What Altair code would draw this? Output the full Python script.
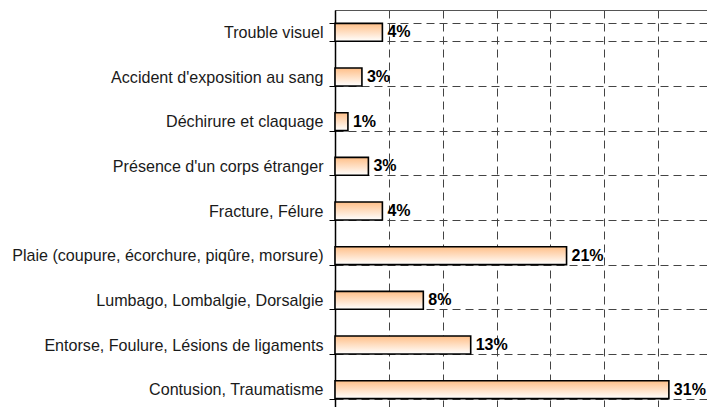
import altair as alt
import pandas as pd

categories = [
    "Trouble visuel",
    "Accident d'exposition au sang",
    "Déchirure et claquage",
    "Présence d'un corps étranger",
    "Fracture, Félure",
    "Plaie (coupure, écorchure, piqûre, morsure)",
    "Lumbago, Lombalgie, Dorsalgie",
    "Entorse, Foulure, Lésions de ligaments",
    "Contusion, Traumatisme",
]
values = [4.4, 2.5, 1.2, 3.1, 4.4, 21.5, 8.2, 12.6, 31.0]
labels = ["4%", "3%", "1%", "3%", "4%", "21%", "8%", "13%", "31%"]
grid_values = [0, 5, 10, 15, 20, 25, 30]

df = pd.DataFrame({"cat": categories, "val": values, "lab": labels})

FONT = "Liberation Sans"
PAD_LEFT = 327
W = 372
H = 402
XMAX = 34.54

x_enc = alt.X(
    "val:Q",
    scale=alt.Scale(domain=[0, XMAX], nice=False, zero=True),
    axis=alt.Axis(
        orient="top", labels=False, ticks=False, title=None,
        domain=True, domainColor="#555555", domainWidth=1,
        grid=True, gridColor="#444444", gridDash=[8, 5], gridWidth=1,
        values=grid_values,
    ),
)
y_enc = alt.Y(
    "cat:N",
    sort=categories,
    scale=alt.Scale(paddingInner=0.6, paddingOuter=0.3),
    axis=alt.Axis(
        title=None, tickBand="extent",
        domain=True, domainColor="#000000", domainWidth=1.5,
        ticks=True, tickColor="#000000", tickSize=6, tickWidth=1,
        grid=True, gridColor="#444444", gridDash=[8, 5], gridWidth=1,
        labelFont=FONT, labelFontSize=16.1, labelColor="#1a1a1a",
        labelPadding=6, labelLimit=400,
    ),
)

grad = alt.Gradient(
    gradient="linear",
    stops=[alt.GradientStop(color="#FFBF88", offset=0),
           alt.GradientStop(color="#FFFFFF", offset=1)],
    x1=0, x2=0, y1=0, y2=1,
)

bars = alt.Chart(df).mark_bar(
    fill=grad, stroke="#000000", strokeWidth=1.6
).encode(x=x_enc, y=y_enc)

text = alt.Chart(df).mark_text(
    align="left", baseline="middle", dx=5, font=FONT, fontSize=16,
    fontWeight="bold", color="#000000"
).encode(x=alt.X("val:Q"), y=alt.Y("cat:N", sort=categories), text="lab:N")

chart = alt.layer(bars, text).properties(
    width=W, height=H,
    autosize=alt.AutoSizeParams(type="none"),
    padding={"left": PAD_LEFT, "top": 2, "right": 0, "bottom": 0},
).configure_view(stroke=None).configure(background="white")

chart.save("out.html", embed_options={"renderer": "svg", "actions": False})
